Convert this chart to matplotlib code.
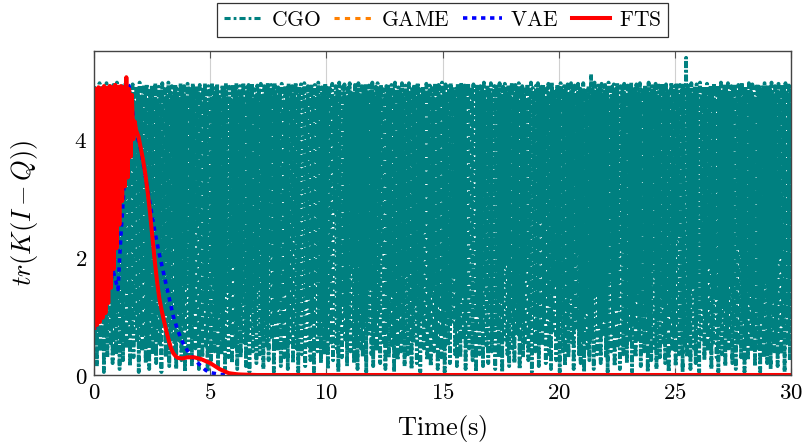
import numpy as np
import matplotlib
matplotlib.use("Agg")
import matplotlib.pyplot as plt
from matplotlib.ticker import FixedLocator, FuncFormatter

plt.rcParams["mathtext.fontset"] = "cm"
plt.rcParams["font.family"] = ["DejaVu Serif"]

# ---------------- data ----------------
# CGO: sampled trace of tr(K(I-Q)) over 0..30 s (800 samples)
cgo_v = [
    4.90, 0.60, 4.75, 0.15, 4.85, 1.10, 4.95, 0.40, 4.70, 0.90, 4.88, 0.05, 4.80, 0.70, 4.95, 0.30, 4.65, 1.30, 4.90, 0.50,
    4.80, 0.20, 4.92, 0.85, 4.70, 0.35, 4.96, 1.20, 4.84, 0.10, 4.75, 0.60, 4.90, 0.25, 4.82, 1.45, 4.95, 0.45, 4.68, 0.95,
    4.88, 0.15, 4.78, 0.70, 4.93, 0.30, 4.62, 1.05, 4.90, 0.55, 4.85, 0.05, 4.96, 0.80, 4.72, 0.40, 4.88, 1.60, 4.80, 0.20,
    4.94, 0.65, 4.70, 0.10, 4.86, 1.15, 4.92, 0.35, 4.76, 0.75, 4.95, 0.20, 4.66, 1.35, 4.89, 0.50, 4.83, 0.05, 4.95, 0.90,
    3.10, 4.85, 0.30, 4.72, 1.00, 4.96, 0.15, 4.80, 0.60, 4.90, 2.20, 4.74, 0.40, 4.93, 0.10, 4.85, 1.25, 4.70, 0.55, 4.95,
    0.25, 4.82, 0.85, 4.90, 0.05, 4.68, 1.50, 4.94, 0.35, 4.86, 0.70, 4.78, 0.15, 4.95, 1.05, 4.73, 0.45, 4.90, 2.60, 4.84,
    0.10, 4.92, 0.65, 4.76, 0.30, 4.88, 1.20, 4.95, 0.50, 4.64, 0.05, 4.90, 0.90, 4.83, 0.25, 4.96, 1.70, 4.71, 0.40, 4.87,
    0.80, 4.94, 0.15, 4.80, 1.10, 4.70, 0.35, 4.92, 0.60, 4.86, 0.05, 4.95, 1.40, 4.77, 0.30, 4.89, 0.75, 4.66, 0.20, 4.93,
    1.90, 4.84, 0.45, 4.95, 0.10, 4.74, 0.95, 4.90, 0.30, 4.82, 1.30, 4.96, 0.55, 4.69, 0.15, 4.88, 0.70, 4.92, 0.05, 4.79,
    1.15, 4.95, 0.40, 4.85, 0.80, 4.72, 0.20, 4.91, 1.55, 4.86, 0.35, 4.94, 0.65, 4.67, 0.10, 4.90, 1.00, 4.83, 0.50, 4.96,
    0.25, 4.76, 2.00, 4.92, 0.60, 4.85, 0.05, 4.95, 0.90, 4.70, 0.40, 4.88, 1.25, 4.80, 0.15, 4.94, 0.70, 4.64, 0.30, 4.91,
    1.45, 4.86, 0.10, 4.95, 0.55, 4.78, 0.85, 4.90, 0.20, 4.83, 2.40, 4.96, 0.45, 4.72, 0.05, 4.89, 1.10, 4.93, 0.35, 4.81,
    0.70, 4.95, 0.15, 4.68, 1.30, 4.90, 0.50, 4.86, 0.25, 4.94, 0.95, 4.75, 0.05, 4.92, 1.60, 4.84, 0.40, 4.96, 0.65, 4.70,
    0.20, 4.88, 1.05, 4.80, 0.35, 4.95, 0.75, 4.73, 0.10, 4.91, 1.40, 4.85, 0.55, 4.94, 0.25, 4.66, 2.80, 4.90, 0.45, 4.82,
    0.05, 4.96, 0.90, 4.77, 0.30, 4.89, 1.15, 4.93, 0.60, 4.70, 0.15, 4.87, 0.80, 4.95, 0.40, 4.81, 1.85, 4.74, 0.20, 4.92,
    0.65, 4.84, 0.10, 4.95, 1.25, 4.69, 0.45, 4.90, 0.30, 4.86, 0.95, 4.94, 0.05, 4.78, 0.70, 4.91, 1.50, 4.83, 0.35, 4.96,
    0.15, 4.72, 0.80, 4.89, 0.40, 4.95, 1.05, 4.80, 0.20, 4.93, 2.10, 4.85, 0.55, 4.67, 0.10, 4.90, 0.85, 4.94, 0.30, 4.76,
    1.35, 4.92, 0.50, 4.84, 0.05, 4.96, 0.75, 4.71, 0.25, 4.88, 1.15, 4.82, 0.40, 4.95, 0.65, 4.74, 0.15, 4.91, 1.70, 4.86,
    0.35, 4.95, 0.90, 4.68, 0.10, 4.89, 0.55, 4.93, 1.30, 4.79, 0.20, 4.96, 0.70, 4.85, 0.05, 4.72, 1.00, 4.90, 0.45, 4.84,
    2.50, 4.94, 0.25, 4.80, 0.85, 4.91, 0.15, 4.87, 1.45, 4.70, 0.40, 4.95, 0.60, 4.83, 0.10, 4.92, 1.20, 4.76, 0.30, 4.96,
    0.75, 4.86, 0.05, 4.93, 1.10, 4.73, 0.50, 4.90, 0.20, 4.95, 0.90, 4.81, 1.65, 4.88, 0.35, 4.67, 0.15, 4.94, 0.80, 4.85,
    0.30, 4.96, 1.40, 4.78, 0.60, 4.91, 0.10, 4.84, 0.95, 4.95, 0.45, 4.70, 2.30, 4.89, 0.25, 4.93, 0.70, 4.82, 0.05, 4.94,
    1.05, 4.75, 0.35, 4.90, 0.80, 4.86, 0.15, 4.96, 1.55, 4.69, 0.50, 4.92, 0.20, 4.85, 1.15, 4.95, 0.40, 4.77, 0.65, 4.90,
    0.10, 4.93, 0.85, 4.83, 0.30, 4.95, 1.25, 4.72, 0.05, 4.89, 0.60, 4.94, 1.90, 4.80, 0.35, 4.91, 0.15, 4.86, 1.00, 4.96,
    0.45, 4.71, 0.20, 4.92, 1.35, 4.85, 0.70, 4.95, 0.10, 4.79, 0.95, 4.90, 0.30, 4.88, 0.55, 4.65, 1.75, 4.94, 0.25, 4.84,
    0.80, 4.96, 0.05, 4.87, 1.10, 4.74, 0.40, 4.91, 0.65, 4.95, 0.15, 4.82, 2.70, 4.89, 0.50, 4.93, 0.90, 4.70, 0.20, 4.86,
    1.20, 4.94, 0.35, 4.80, 0.10, 4.96, 0.75, 4.85, 1.50, 4.73, 0.25, 4.92, 0.60, 4.88, 0.05, 4.95, 1.05, 4.78, 0.40, 4.90,
    0.15, 4.84, 0.95, 4.93, 0.30, 4.68, 1.30, 4.95, 0.55, 4.87, 0.10, 4.91, 0.80, 4.76, 2.05, 4.94, 0.35, 4.89, 0.20, 4.82,
    0.70, 4.95, 0.05, 4.86, 1.15, 4.72, 0.45, 4.90, 0.25, 1.10, 5.10, 0.60, 4.83, 0.10, 4.96, 1.40, 4.79, 0.35, 4.91, 0.85,
    4.88, 0.20, 4.94, 0.65, 4.75, 1.00, 4.92, 0.30, 4.85, 0.05, 4.96, 1.60, 4.70, 0.40, 4.89, 0.75, 4.93, 0.15, 4.81, 1.25,
    4.95, 0.50, 4.67, 0.10, 4.90, 2.20, 4.86, 0.35, 4.94, 0.80, 4.78, 0.20, 4.91, 1.05, 4.84, 0.55, 4.96, 0.05, 4.73, 0.90,
    4.89, 0.30, 4.93, 1.45, 4.80, 0.60, 4.95, 0.15, 4.71, 0.85, 4.87, 0.40, 4.92, 1.20, 4.83, 0.05, 4.96, 0.70, 4.76, 0.25,
    4.90, 1.80, 4.85, 0.45, 4.94, 0.10, 4.69, 0.95, 4.91, 0.30, 4.88, 1.30, 4.95, 0.55, 4.79, 0.20, 4.93, 0.75, 4.86, 0.05,
    4.72, 1.10, 4.96, 0.40, 4.84, 0.65, 4.90, 0.15, 4.95, 2.40, 4.77, 0.35, 4.92, 0.85, 4.87, 0.05, 4.94, 1.25, 0.50, 5.38,
    0.30, 4.91, 0.70, 4.83, 0.10, 4.95, 1.50, 4.74, 0.45, 4.89, 0.20, 4.93, 0.95, 4.86, 0.05, 4.96, 0.60, 4.70, 1.15, 4.90,
    0.25, 4.85, 0.80, 4.94, 0.40, 4.78, 1.95, 4.91, 0.10, 4.87, 0.55, 4.95, 1.30, 4.68, 0.30, 4.92, 0.05, 4.84, 0.90, 4.96,
    0.35, 4.80, 1.20, 4.93, 0.15, 4.88, 0.65, 4.95, 0.45, 4.73, 1.55, 4.90, 0.20, 4.86, 0.85, 4.94, 0.10, 4.79, 0.50, 4.92,
    2.15, 4.87, 0.30, 4.96, 1.00, 4.71, 0.05, 4.90, 0.60, 4.84, 0.25, 4.95, 1.35, 4.82, 0.40, 4.93, 0.75, 4.67, 0.15, 4.89,
    1.10, 4.94, 0.45, 4.86, 0.05, 4.91, 0.90, 4.76, 0.30, 4.95, 1.65, 4.83, 0.20, 4.92, 0.55, 4.88, 0.10, 4.96, 1.25, 4.74,
    0.40, 4.90, 0.70, 4.85, 0.15, 4.94, 2.00, 4.80, 0.35, 4.93, 0.85, 4.87, 0.05, 4.95, 1.05, 4.72, 0.50, 4.91, 0.25, 4.86,
]
cgo_t = np.linspace(0.0, 30.0, len(cgo_v))

# FTS: fast switching phase followed by smooth decay
fts_t = [0.00, 0.06, 0.12, 0.18, 0.24, 0.30, 0.36, 0.42, 0.48, 0.54,
         0.60, 0.66, 0.72, 0.78, 0.84, 0.90, 0.96, 1.02, 1.08, 1.14,
         1.20, 1.26, 1.32, 1.38, 1.44, 1.50, 1.56, 1.62, 1.68, 1.74,
         1.80, 1.90, 2.00, 2.10, 2.20, 2.30, 2.40, 2.50, 2.60, 2.70,
         2.80, 2.90, 3.00, 3.10, 3.20, 3.30, 3.40, 3.50, 3.60, 3.80,
         4.00, 4.30, 4.60, 5.00, 5.40, 5.80, 6.20, 7.00, 30.0]
fts_v = [0.80, 4.85, 0.85, 4.88, 0.90, 4.86, 0.97, 4.90, 1.05, 4.87,
         1.22, 4.90, 1.48, 4.88, 1.80, 4.92, 2.15, 4.89, 2.55, 4.90,
         2.95, 4.88, 3.20, 5.05, 3.35, 4.85, 3.70, 4.75, 4.00, 4.30,
         4.15, 4.05, 3.85, 3.65, 3.40, 3.10, 2.75, 2.35, 1.95, 1.60,
         1.30, 1.10, 0.92, 0.75, 0.60, 0.46, 0.37, 0.32, 0.29, 0.28,
         0.30, 0.30, 0.27, 0.20, 0.10, 0.03, 0.01, 0.00, 0.00]

# GAME coincides with FTS
game_t = fts_t
game_v = fts_v

# VAE
vae_t = [0.00, 0.02, 0.30, 0.60, 0.82, 0.92, 1.02, 1.08, 1.15, 1.25,
         1.35, 1.42, 1.50, 1.60, 1.76, 1.98, 2.20, 2.40, 2.60, 2.80,
         3.00, 3.20, 3.40, 3.60, 3.80, 4.00, 4.20, 4.40, 4.60, 4.80,
         5.00, 5.40, 6.00, 30.0]
vae_v = [4.85, 0.80, 1.05, 1.45, 1.75, 1.60, 1.45, 1.90, 2.40, 3.00,
         3.90, 4.94, 4.90, 4.60, 4.17, 3.86, 3.37, 2.90, 2.45, 2.05,
         1.70, 1.35, 1.00, 0.75, 0.56, 0.42, 0.32, 0.23, 0.15, 0.08,
         0.04, 0.01, 0.00, 0.00]

x_ticks = [0, 5, 10, 15, 20, 25, 30]
y_ticks = [0, 2, 4]

# ---------------- figure ----------------
W, H = 803, 448
fig = plt.figure(figsize=(W / 100, H / 100), dpi=100)
ax = fig.add_axes([94.3 / W, (H - 375) / H, (790.7 - 94.3) / W, (375 - 50.7) / H])

ax.plot(cgo_t, cgo_v, color="#008080", lw=2.7, ls=(0, (1.7, 0.65, 0.6, 0.65)),
        label=r"$\mathrm{CGO}$", zorder=2)
ax.plot(game_t, game_v, color="#FF8000", lw=2.2, ls=(0, (1.7, 1.7)),
        label=r"$\mathrm{GAME}$", zorder=3)
ax.plot(vae_t, vae_v, color="#0000FF", lw=2.6, ls=(0, (1.2, 1.3)),
        label=r"$\mathrm{VAE}$", zorder=4)
ax.plot(fts_t, fts_v, color="#FF0000", lw=2.9, ls="-",
        label=r"$\mathrm{FTS}$", zorder=5)

ax.set_xlim(0, 30)
ax.set_ylim(0, 5.5)
ax.xaxis.set_major_locator(FixedLocator(x_ticks))
ax.yaxis.set_major_locator(FixedLocator(y_ticks))
fmt = FuncFormatter(lambda v, p: r"$%d$" % round(v))
ax.xaxis.set_major_formatter(fmt)
ax.yaxis.set_major_formatter(fmt)
ax.tick_params(direction="in", length=5, width=0.8, color="#555555",
               top=True, right=True, labelsize=16.5, pad=5)
ax.grid(axis="x", color="#d0d0d0", lw=0.8, zorder=0)
ax.set_axisbelow(True)
for s in ax.spines.values():
    s.set_color("#444444")
    s.set_linewidth(1.0)
    s.set_zorder(6)

ax.set_xlabel(r"$\mathrm{Time(s)}$", fontsize=19)
ax.set_ylabel(r"$tr(K(I-Q))$", fontsize=19)
ax.xaxis.set_label_coords(0.5, (375 - 413) / (375 - 50.7))
ax.yaxis.set_label_coords((40 - 94.3) / (790.7 - 94.3), 0.5)

leg = fig.legend(loc="center", bbox_to_anchor=(442.5 / W, 1 - 20 / H), ncol=4,
                 fontsize=15.5, frameon=True, fancybox=False, framealpha=1,
                 edgecolor="#333333", handlelength=1.8, handletextpad=0.4,
                 columnspacing=0.6, borderpad=0.3, borderaxespad=0)
leg.get_frame().set_linewidth(0.9)
# legend key for CGO keeps the thinner dash-dot stroke
cgo_key = leg.legend_handles[0]
cgo_key.set_linewidth(2.2)
cgo_key.set_linestyle((0, (2.0, 1.0, 0.9, 1.0)))

fig.savefig("out.png", dpi=100)
